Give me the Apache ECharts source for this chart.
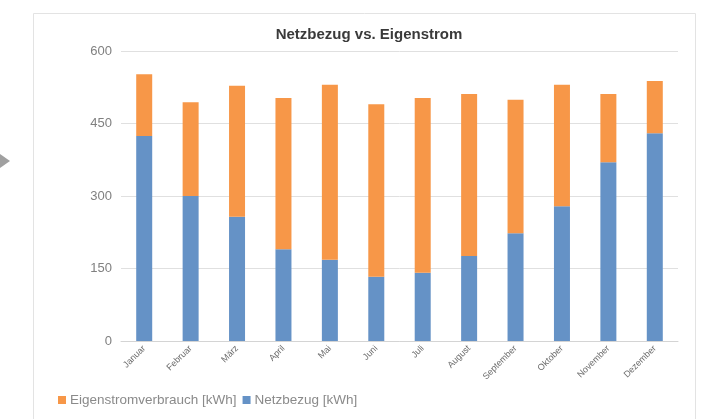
<!DOCTYPE html>
<html><head><meta charset="utf-8">
<script src="https://cdn.jsdelivr.net/npm/echarts@6/dist/echarts.min.js"></script>
<style>html,body{margin:0;padding:0;background:#fff;}#c{width:705px;height:419px;}</style>
</head><body><div id="c"></div>
<script>
const months = ['Januar','Februar','März','April','Mai','Juni','Juli','August','September','Oktober','November','Dezember'];
const netzbezug = [424, 300, 257, 190, 168, 133, 141, 176, 223, 279, 370, 430];
const eigenstrom = [128, 194, 271, 313, 362, 357, 362, 335, 276, 251, 141, 108];
const yTicks = [0, 150, 300, 450, 600];

const chart = echarts.init(document.getElementById('c'), null, {renderer: 'canvas'});
chart.setOption({
  animation: false,
  backgroundColor: '#fff',
  title: {
    text: 'Netzbezug vs. Eigenstrom',
    left: 364, top: 22, textAlign: 'center',
    textStyle: {fontFamily: 'Liberation Sans, Arial', fontSize: 15, fontWeight: 'bold', color: '#3a3a3a'}
  },
  graphic: [
    {type: 'rect', shape: {x: 33.5, y: 13.5, width: 662, height: 420}, style: {fill: 'none', stroke: '#e3e3e3', lineWidth: 1}, silent: true},
    {type: 'polygon', shape: {points: [[0, 154], [10, 161], [0, 168]]}, style: {fill: '#a0a0a0'}, silent: true}
  ],
  legend: {
    left: 53, top: 388, itemWidth: 8, itemHeight: 8, itemGap: 6, icon: 'rect',
    data: ['Eigenstromverbrauch [kWh]', 'Netzbezug [kWh]'],
    textStyle: {fontFamily: 'Liberation Sans, Arial', fontSize: 13.5, color: '#8a8a8a', padding: [0, 0, 0, -1]}
  },
  grid: {left: 121, right: 27, top: 51, bottom: 78, containLabel: false},
  xAxis: {
    type: 'category', data: months,
    axisLine: {lineStyle: {color: '#d4d4d4', width: 1}},
    axisTick: {show: false},
    axisLabel: {rotate: 45, interval: 0, fontFamily: 'Liberation Sans, Arial', fontSize: 9, color: '#6a6a6a', margin: 6}
  },
  yAxis: {
    type: 'value', min: yTicks[0], max: yTicks[yTicks.length - 1], interval: 150,
    axisLine: {show: false}, axisTick: {show: false},
    splitLine: {lineStyle: {color: '#e0e0e0', width: 1}},
    axisLabel: {fontFamily: 'Liberation Sans, Arial', fontSize: 13, color: '#808080', margin: 9}
  },
  series: [
    {name: 'Netzbezug [kWh]', type: 'bar', stack: 'a', data: netzbezug, barWidth: 16, itemStyle: {color: '#6592c6'}},
    {name: 'Eigenstromverbrauch [kWh]', type: 'bar', stack: 'a', data: eigenstrom, barWidth: 16, itemStyle: {color: '#f79748'}}
  ]
});
</script></body></html>
